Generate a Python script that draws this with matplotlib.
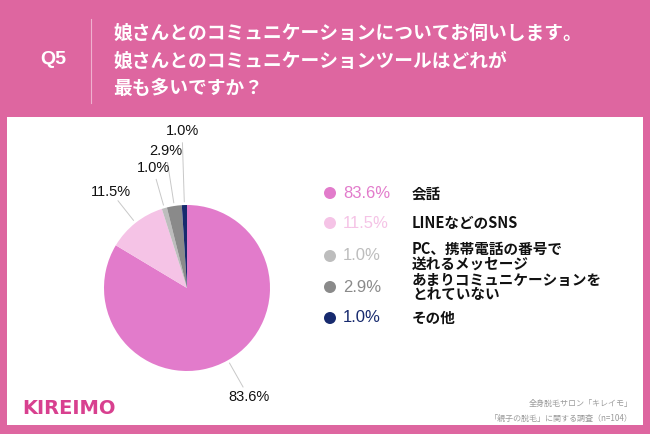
import numpy as np
import matplotlib
matplotlib.use("Agg")
import matplotlib.pyplot as plt
from matplotlib.patches import Ellipse

plt.rcParams['font.family'] = ['Noto Sans CJK JP', 'DejaVu Sans']

# データ
values = [83.6, 11.5, 1.0, 2.9, 1.0]
pct_labels = ["83.6%", "11.5%", "1.0%", "2.9%", "1.0%"]
categories = ["会話", "LINEなどのSNS", "PC、携帯電話の番号で\n送れるメッセージ",
              "あまりコミュニケーションを\nとれていない", "その他"]
colors = ["#E27BCB", "#F5C3E6", "#BDBDBD", "#8A8A8A", "#172A6E"]
title_lines = ["娘さんとのコミュニケーションについてお伺いします。",
               "娘さんとのコミュニケーションツールはどれが",
               "最も多いですか？"]
source_lines = ["全身脱毛サロン「キレイモ」", "「親子の脱毛」に関する調査（n=104）"]

W, H = 650, 434
PINK = "#DE66A0"


def px(x, y):
    """ピクセル座標 → figure 座標"""
    return x / W, 1 - y / H


fig = plt.figure(figsize=(W / 100, H / 100), dpi=100)
fig.patch.set_facecolor(PINK)

# 白いパネル（背景用の空 axes）
bg = fig.add_axes([7 / W, 1 - 425 / H, 636 / W, 308 / H], zorder=-1)
bg.set_facecolor("white")
bg.set_xticks([])
bg.set_yticks([])
for s in bg.spines.values():
    s.set_visible(False)

# ヘッダー
fig.text(*px(53, 59), "Q5", color="white", fontsize=14, fontweight="bold",
         ha="center", va="center", family=["Liberation Sans", "DejaVu Sans"])
fig.add_artist(plt.Line2D([91 / W, 91 / W], [1 - 19 / H, 1 - 103 / H],
                          color="#F0B0CF", lw=0.8, transform=fig.transFigure))
for i, line in enumerate(title_lines):
    fig.text(*px(113, 33 + i * 28), line, color="white", fontsize=13.5,
             fontweight="bold", ha="left", va="center")

# 円グラフ
cx, cy, r = 187, 288, 83
ax = fig.add_axes([(cx - r) / W, 1 - (cy + r) / H, 2 * r / W, 2 * r / H], zorder=2)
wedges, _ = ax.pie(values, colors=colors, startangle=90, counterclock=False,
                   wedgeprops=dict(linewidth=0))
ax.set_xlim(-1, 1)
ax.set_ylim(-1, 1)
ax.set_aspect("equal")
ax.axis("off")

# ラベルと引き出し線
label_r = [1.51, 1.48, 1.50, 1.67, 1.89]
for w, lab, lr in zip(wedges, pct_labels, label_r):
    ang = np.deg2rad((w.theta1 + w.theta2) / 2)
    d = np.array([np.cos(ang), np.sin(ang)])
    p0 = d * 1.04
    p1 = d * (lr - 0.14)
    ax.plot([p0[0], p1[0]], [p0[1], p1[1]], color="#C8C8C8", lw=0.7, clip_on=False)
    ax.text(d[0] * lr, d[1] * lr, lab, fontsize=10.5, ha="center", va="center",
            color="#111111", family=["Liberation Sans", "DejaVu Sans"], clip_on=False)

# 凡例
rows_y = [193, 223, 256, 287, 318]
for yy, c, p, cat in zip(rows_y, colors, pct_labels, categories):
    fig.add_artist(Ellipse(px(330, yy), 12 / W, 12 / H, transform=fig.transFigure,
                           facecolor=c, edgecolor="none"))
    fig.text(*px(343, yy), p, color=c, fontsize=12, ha="left", va="center",
             family=["Liberation Sans", "DejaVu Sans"])
    fig.text(*px(412, yy), cat, color="#111111", fontsize=10.5, fontweight="bold",
             ha="left", va="center", linespacing=0.9)

# フッター
fig.text(*px(22, 408), "KIREIMO", color="#D8408F", fontsize=14, fontweight="bold",
         ha="left", va="center", family=["DejaVu Sans"])
for i, s in enumerate(source_lines):
    fig.text(*px(633, 403 + i * 15), s, color="#9A9A9A", fontsize=5.8,
             ha="right", va="center")

fig.savefig("out.png", dpi=100, facecolor=fig.get_facecolor())
